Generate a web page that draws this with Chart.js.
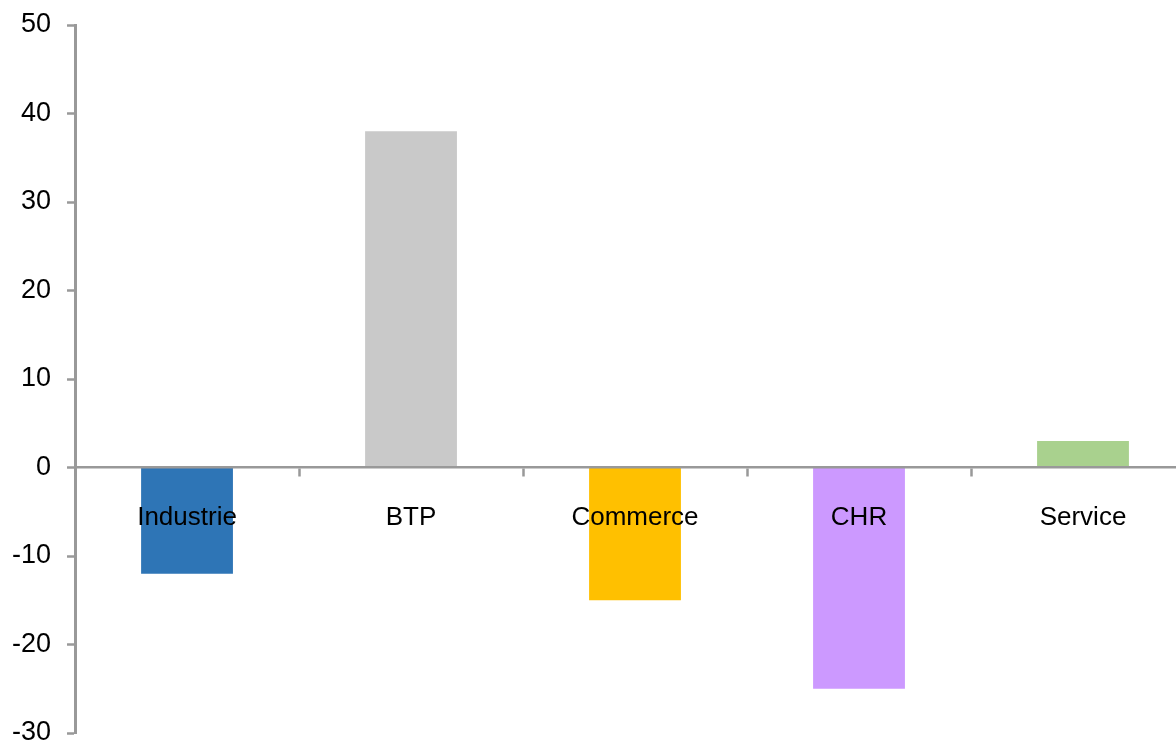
<!DOCTYPE html>
<html>
<head>
<meta charset="utf-8">
<script src="https://cdn.jsdelivr.net/npm/chart.js@4"></script>
<style>
  html, body { margin: 0; padding: 0; background: #fff; overflow: hidden; }
  /* the plot runs past the right edge of the picture, so the canvas is wider than the window */
  #wrap { width: 1195px; height: 752px; position: relative; }
</style>
</head>
<body>
<div id="wrap"><canvas id="chart"></canvas></div>
<script>
// categories and values
const sectors = ['Industrie', 'BTP', 'Commerce', 'CHR', 'Service'];
const balance = [-12, 38, -15, -25, 3];
const barColors = ['#2E75B6', '#C9C9C9', '#FFC000', '#CC99FF', '#A9D18E'];

const axisGray = '#999999';
const fontFamily = "'Liberation Sans', Arial, sans-serif";

new Chart(document.getElementById('chart'), {
  type: 'bar',
  data: {
    labels: sectors,
    datasets: [{
      data: balance,
      backgroundColor: barColors,
      borderWidth: 0,
      barPercentage: 0.41,
      categoryPercentage: 1
    }]
  },
  options: {
    responsive: true,
    maintainAspectRatio: false,
    animation: false,
    layout: { padding: { left: -4, right: 0, top: 0, bottom: 0 } },
    plugins: {
      legend: { display: false },
      tooltip: { enabled: false }
    },
    scales: {
      x: {
        position: { y: 0 },
        grid: {
          offset: true,
          drawOnChartArea: false,
          drawTicks: true,
          tickLength: 8,
          tickWidth: 2.5,
          tickColor: axisGray,
          z: 1
        },
        border: { display: true, color: axisGray, width: 2.5, z: 1 },
        ticks: {
          color: '#000',
          padding: 27,
          maxRotation: 0,
          z: 1,
          font: { family: fontFamily, size: 26 }
        }
      },
      y: {
        min: -30,
        max: 50,
        grid: {
          drawOnChartArea: false,
          drawTicks: true,
          tickLength: 8,
          tickWidth: 2.5,
          tickColor: axisGray
        },
        border: { display: true, color: axisGray, width: 3 },
        ticks: {
          stepSize: 10,
          color: '#000',
          padding: 16,
          font: { family: fontFamily, size: 27 }
        },
        // keep the plot top at 50 -> y=25 and bottom at -30 -> y=733
        afterFit: (scale) => {
          scale.paddingTop = 25;
          scale.paddingBottom = 19;
        }
      }
    }
  }
});
</script>
</body>
</html>
